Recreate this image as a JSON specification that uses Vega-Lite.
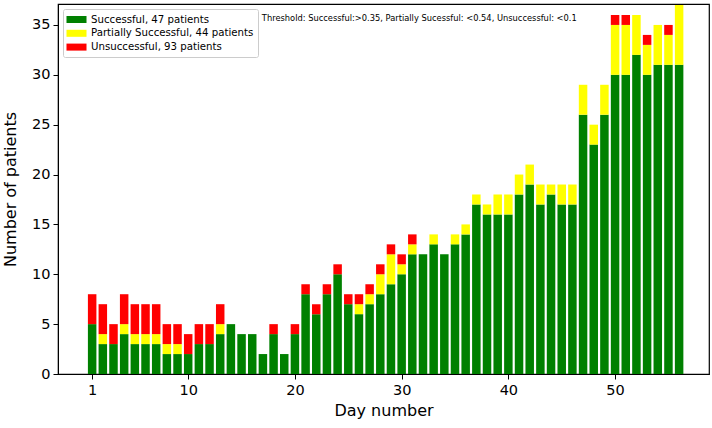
{
  "$schema": "https://vega.github.io/schema/vega-lite/v6.json",
  "width": 651,
  "height": 370,
  "autosize": "none",
  "padding": {"left": 58, "top": 4, "right": 3, "bottom": 54},
  "background": "white",
  "data": {
    "values": [
      {"day": 1, "s": 5, "p": 0, "u": 3},
      {"day": 2, "s": 3, "p": 1, "u": 3},
      {"day": 3, "s": 3, "p": 0, "u": 2},
      {"day": 4, "s": 4, "p": 1, "u": 3},
      {"day": 5, "s": 3, "p": 1, "u": 3},
      {"day": 6, "s": 3, "p": 1, "u": 3},
      {"day": 7, "s": 3, "p": 1, "u": 3},
      {"day": 8, "s": 2, "p": 1, "u": 2},
      {"day": 9, "s": 2, "p": 1, "u": 2},
      {"day": 10, "s": 2, "p": 0, "u": 2},
      {"day": 11, "s": 3, "p": 0, "u": 2},
      {"day": 12, "s": 3, "p": 0, "u": 2},
      {"day": 13, "s": 4, "p": 1, "u": 2},
      {"day": 14, "s": 5, "p": 0, "u": 0},
      {"day": 15, "s": 4, "p": 0, "u": 0},
      {"day": 16, "s": 4, "p": 0, "u": 0},
      {"day": 17, "s": 2, "p": 0, "u": 0},
      {"day": 18, "s": 4, "p": 0, "u": 1},
      {"day": 19, "s": 2, "p": 0, "u": 0},
      {"day": 20, "s": 4, "p": 0, "u": 1},
      {"day": 21, "s": 8, "p": 0, "u": 1},
      {"day": 22, "s": 6, "p": 0, "u": 1},
      {"day": 23, "s": 8, "p": 0, "u": 1},
      {"day": 24, "s": 10, "p": 0, "u": 1},
      {"day": 25, "s": 7, "p": 0, "u": 1},
      {"day": 26, "s": 6, "p": 1, "u": 1},
      {"day": 27, "s": 7, "p": 1, "u": 1},
      {"day": 28, "s": 8, "p": 2, "u": 1},
      {"day": 29, "s": 9, "p": 3, "u": 1},
      {"day": 30, "s": 10, "p": 1, "u": 1},
      {"day": 31, "s": 12, "p": 1, "u": 1},
      {"day": 32, "s": 12, "p": 0, "u": 0},
      {"day": 33, "s": 13, "p": 1, "u": 0},
      {"day": 34, "s": 12, "p": 0, "u": 0},
      {"day": 35, "s": 13, "p": 1, "u": 0},
      {"day": 36, "s": 14, "p": 1, "u": 0},
      {"day": 37, "s": 17, "p": 1, "u": 0},
      {"day": 38, "s": 16, "p": 1, "u": 0},
      {"day": 39, "s": 16, "p": 2, "u": 0},
      {"day": 40, "s": 16, "p": 2, "u": 0},
      {"day": 41, "s": 18, "p": 2, "u": 0},
      {"day": 42, "s": 19, "p": 2, "u": 0},
      {"day": 43, "s": 17, "p": 2, "u": 0},
      {"day": 44, "s": 18, "p": 1, "u": 0},
      {"day": 45, "s": 17, "p": 2, "u": 0},
      {"day": 46, "s": 17, "p": 2, "u": 0},
      {"day": 47, "s": 26, "p": 3, "u": 0},
      {"day": 48, "s": 23, "p": 2, "u": 0},
      {"day": 49, "s": 26, "p": 3, "u": 0},
      {"day": 50, "s": 30, "p": 5, "u": 1},
      {"day": 51, "s": 30, "p": 5, "u": 1},
      {"day": 52, "s": 32, "p": 4, "u": 0},
      {"day": 53, "s": 30, "p": 3, "u": 1},
      {"day": 54, "s": 31, "p": 4, "u": 0},
      {"day": 55, "s": 31, "p": 3, "u": 1},
      {"day": 56, "s": 31, "p": 6, "u": 0}
    ]
  },
  "layer": [
    {
      "transform": [
        {"fold": ["s", "p", "u"], "as": ["key", "count"]},
        {"calculate": "indexof(['s', 'p', 'u'], datum.key)", "as": "rank"}
      ],
      "mark": {"type": "bar", "width": 8.5, "clip": true},
      "encoding": {
        "x": {
          "field": "day",
          "type": "quantitative",
          "scale": {"domain": [-2.2, 58.8], "nice": false, "zero": false, "padding": 0},
          "axis": {"values": [1, 10, 20, 30, 40, 50], "title": "Day number"}
        },
        "y": {
          "field": "count",
          "type": "quantitative",
          "stack": "zero",
          "scale": {"domain": [0, 37.1], "nice": false, "padding": 0},
          "axis": {"values": [0, 5, 10, 15, 20, 25, 30, 35], "title": "Number of patients"}
        },
        "order": {"field": "rank"},
        "color": {
          "field": "key",
          "type": "nominal",
          "scale": {"domain": ["s", "p", "u"], "range": ["#008000", "#ffff00", "#ff0000"]},
          "legend": {
            "title": null,
            "orient": "top-left",
            "offset": 5,
            "padding": 4,
            "fillColor": "white",
            "strokeColor": "#cccccc",
            "cornerRadius": 2,
            "symbolType": "M-1.54,-0.54L1.54,-0.54L1.54,0.54L-1.54,0.54Z",
            "symbolSize": 169,
            "symbolStrokeWidth": 0,
            "symbolOffset": 3,
            "labelFont": "DejaVu Sans",
            "labelFontSize": 10.2,
            "labelColor": "black",
            "labelLimit": 300,
            "labelOffset": 8,
            "rowPadding": 1.8,
            "labelExpr": "datum.label == 's' ? 'Successful, 47 patients' : datum.label == 'p' ? 'Partially Successful, 44 patients' : 'Unsuccessful, 93 patients'"
          }
        }
      }
    },
    {
      "data": {"values": [{"note": "Threshold: Successful:>0.35, Partially Sucessful: <0.54, Unsuccessful: <0.1"}]},
      "mark": {
        "type": "text",
        "align": "left",
        "baseline": "middle",
        "font": "DejaVu Sans",
        "fontSize": 8.3,
        "color": "black"
      },
      "encoding": {
        "text": {"field": "note"},
        "x": {"datum": 16.9, "type": "quantitative"},
        "y": {"datum": 35.6, "type": "quantitative"}
      }
    }
  ],
  "config": {
    "view": {"stroke": "black", "strokeWidth": 1.2},
    "axis": {
      "grid": false,
      "domainColor": "black",
      "tickColor": "black",
      "tickSize": 5,
      "labelFont": "DejaVu Sans",
      "labelFontSize": 14.5,
      "labelColor": "black",
      "titleFont": "DejaVu Sans",
      "titleFontSize": 16,
      "titleFontWeight": "normal",
      "titleColor": "black"
    },
    "axisX": {"labelPadding": 4, "titlePadding": 6},
    "axisY": {"labelPadding": 3, "titlePadding": 13}
  }
}
